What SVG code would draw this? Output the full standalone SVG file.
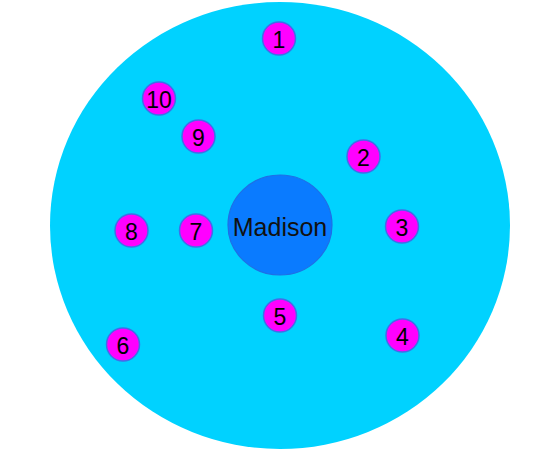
<svg xmlns="http://www.w3.org/2000/svg" width="540" height="452" viewBox="0 0 540 452">
<style>
.n circle{fill:#FF00FF;stroke:#3F6FE8;stroke-width:1.5}
.n text{font-family:"Liberation Sans",Arial,sans-serif;font-size:23px;fill:#000;text-anchor:middle;dominant-baseline:central}
#madison text{font-family:"Liberation Sans",Arial,sans-serif;font-size:25px;fill:#111;text-anchor:middle;dominant-baseline:central}
</style>
<g id="outer"><ellipse cx="280" cy="225.5" rx="230" ry="223.5" fill="#00D2FF"/></g>
<g id="madison"><ellipse cx="280" cy="225" rx="52" ry="50" fill="#0A7BFF" stroke="#1E6FE6" stroke-width="1.2"/><text x="280" y="227">Madison</text></g>
<g id="connectors"></g>
<g id="n1" class="n"><circle cx="279" cy="38.5" r="16.5"/><text x="279" y="39.5">1</text></g>
<g id="n2" class="n"><circle cx="363.5" cy="156.5" r="16.5"/><text x="363.5" y="157.5">2</text></g>
<g id="n3" class="n"><circle cx="402" cy="226.5" r="16.5"/><text x="402" y="227.5">3</text></g>
<g id="n4" class="n"><circle cx="402.5" cy="335.5" r="16.5"/><text x="402.5" y="336.5">4</text></g>
<g id="n5" class="n"><circle cx="280" cy="315.5" r="16.5"/><text x="280" y="316.5">5</text></g>
<g id="n6" class="n"><circle cx="123" cy="344.5" r="16.5"/><text x="123" y="345.5">6</text></g>
<g id="n7" class="n"><circle cx="196" cy="230.5" r="16.5"/><text x="196" y="231.5">7</text></g>
<g id="n8" class="n"><circle cx="131.5" cy="230.5" r="16.5"/><text x="131.5" y="231.5">8</text></g>
<g id="n9" class="n"><circle cx="198.5" cy="136.5" r="16.5"/><text x="198.5" y="137.5">9</text></g>
<g id="n10" class="n"><circle cx="159" cy="98.5" r="16.5"/><text x="159" y="99.5">10</text></g>
</svg>
